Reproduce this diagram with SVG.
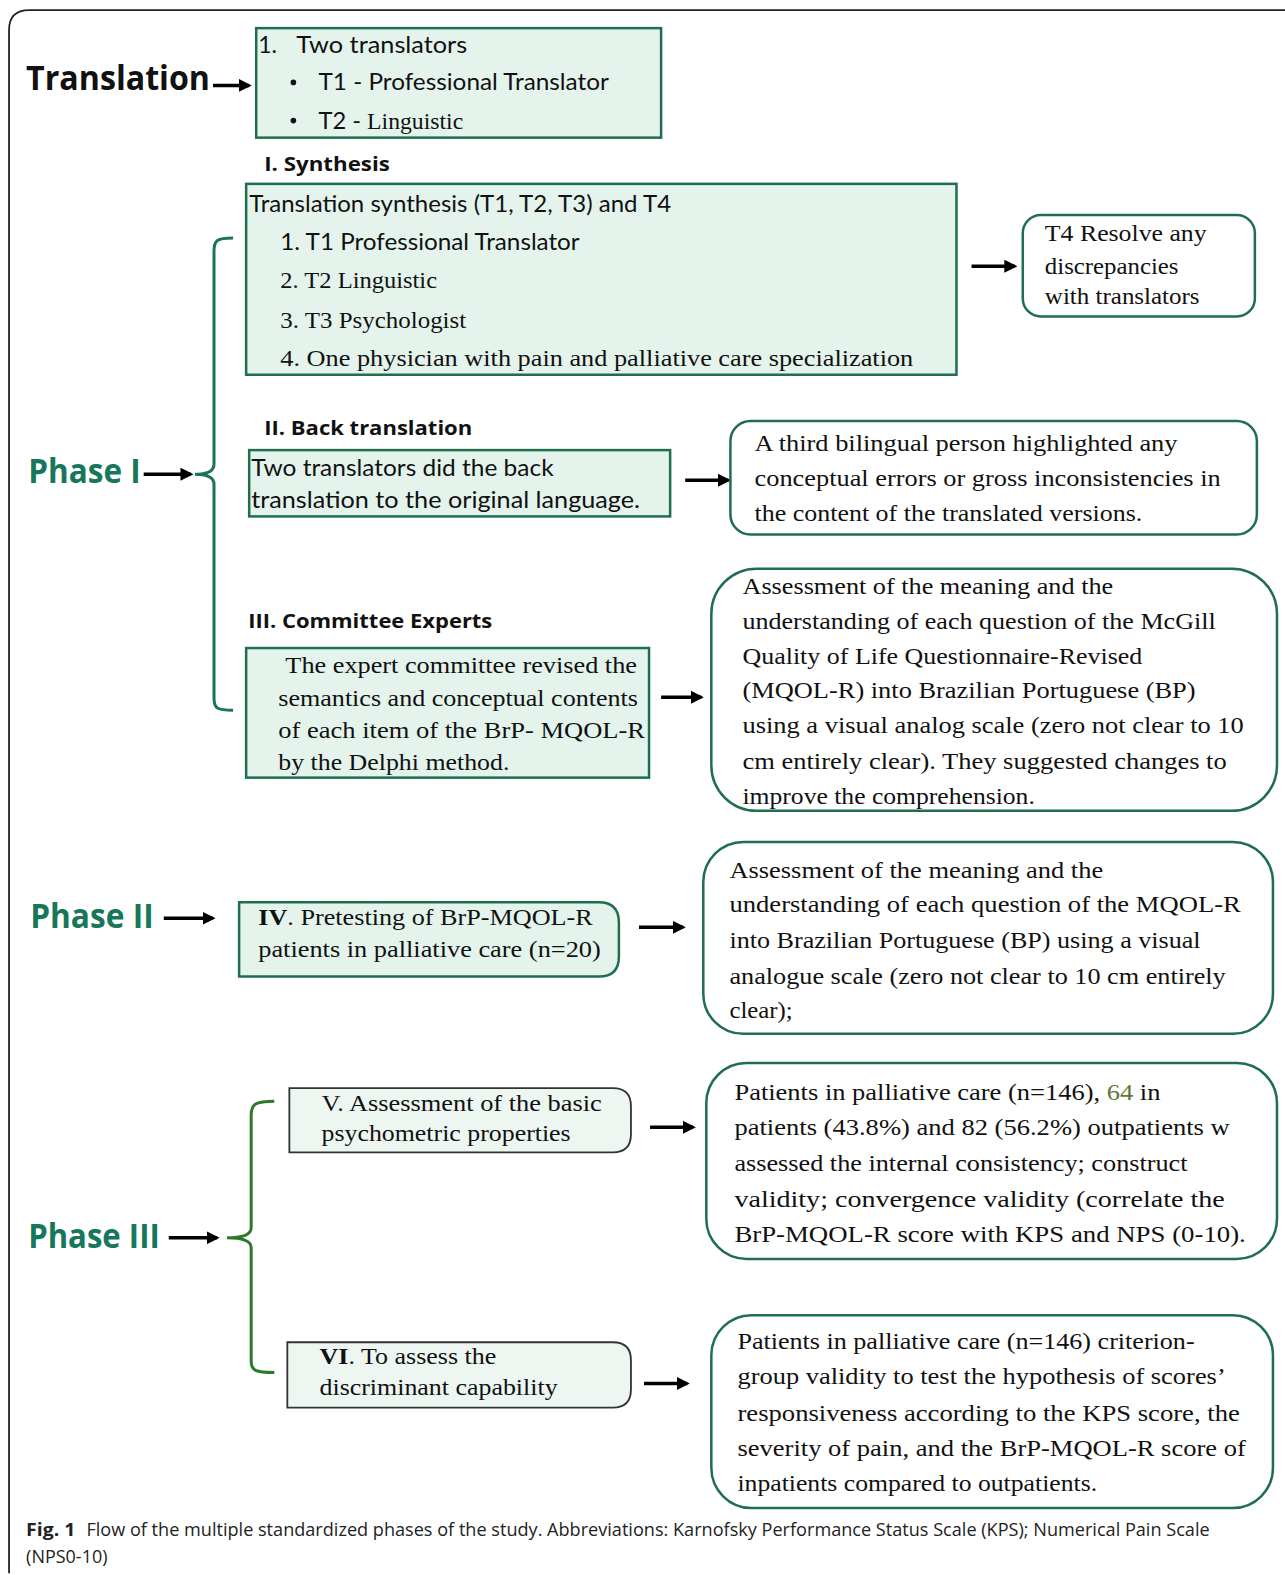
<svg xmlns="http://www.w3.org/2000/svg" width="1285" height="1575" viewBox="0 0 1285 1575">
<style>
.box{fill:#e4f4ec;stroke:#1f6f4f;stroke-width:2.5}
.rbox{fill:#ffffff;stroke:#1f6f4f;stroke-width:2.5}
.gbox{fill:#eef6f2;stroke:#333;stroke-width:1.8}
.cal{font-family:Lato,"Open Sans",sans-serif;font-size:23px;fill:#111}
.tim{font-family:"Liberation Serif","Times New Roman",serif;font-size:24px;fill:#111}
.hdr{font-family:"Open Sans",Lato,sans-serif;font-weight:bold;font-size:20px;fill:#111}
.phase{font-family:"Open Sans",Lato,sans-serif;font-weight:bold;font-size:33px;fill:#17775a}
.cap{font-family:"Open Sans","Noto Sans",sans-serif;font-size:18px;fill:#222}
.arr{stroke:#000;stroke-width:3.5;fill:none;marker-end:url(#ah)}
.brace{fill:none;stroke:#1e7456;stroke-width:3}
.brace3{fill:none;stroke:#2b7a2b;stroke-width:3}
</style>
<defs>
<marker id="ah" viewBox="0 0 10 10" refX="8" refY="5" markerWidth="13" markerHeight="13" markerUnits="userSpaceOnUse" orient="auto">
<path d="M0,0 L10,5 L0,10 z" fill="#000"/>
</marker>
</defs>
<rect width="1285" height="1575" fill="#fff"/>
<g transform="scale(1.0047)">
<path d="M9,1566 V30 Q9,10 29,10 H1285" fill="none" stroke="#222" stroke-width="1.8"/>

<g id="connectors">
<line class="arr" x1="212" y1="85" x2="248" y2="85"/>
<line class="arr" x1="967" y1="265" x2="1010" y2="265"/>
<line class="arr" x1="143" y1="472" x2="190" y2="472"/>
<line class="arr" x1="682" y1="478" x2="725" y2="478"/>
<line class="arr" x1="658" y1="694" x2="698" y2="694"/>
<line class="arr" x1="163" y1="914" x2="212" y2="914"/>
<line class="arr" x1="636" y1="923" x2="680" y2="923"/>
<line class="arr" x1="168" y1="1232" x2="216" y2="1232"/>
<line class="arr" x1="647" y1="1122" x2="690" y2="1122"/>
<line class="arr" x1="641" y1="1377" x2="684" y2="1377"/>
<path class="brace" d="M232,237 C216,237 213,239 213,250 V462 Q213,472 194,472 Q213,472 213,482 V695 C213,705 216,707 232,707"/>
<path class="brace3" d="M273,1096 C254,1096 250,1099 250,1110 V1222 Q250,1232 226,1232 Q250,1232 250,1242 V1355 C250,1364 254,1366 273,1366"/>
</g>

<g id="translation-label"><text class="phase" x="26" y="90" style="fill:#111" textLength="183" lengthAdjust="spacingAndGlyphs">Translation</text></g>
<g id="translation-box">
<rect class="box" x="255" y="28" width="403" height="109"/>
<text class="cal" x="257" y="53">1.</text>
<text class="cal" x="295" y="53" textLength="170" lengthAdjust="spacingAndGlyphs">Two  translators</text>
<circle cx="292" cy="82" r="2.8" fill="#111"/>
<text class="cal" x="317" y="90" textLength="289" lengthAdjust="spacingAndGlyphs">T1 - Professional Translator</text>
<circle cx="292" cy="120" r="2.8" fill="#111"/>
<text class="cal" x="317" y="128" textLength="144" lengthAdjust="spacingAndGlyphs">T2 - <tspan style="font-family:'Liberation Serif',serif">Linguistic</tspan></text>
</g>

<g id="synthesis-header"><text class="hdr" x="263" y="170" textLength="125" lengthAdjust="spacingAndGlyphs">I. Synthesis</text></g>
<g id="synthesis-box">
<rect class="box" x="245" y="183" width="707" height="190"/>
<text class="cal" x="248" y="211" textLength="420" lengthAdjust="spacingAndGlyphs">Translation synthesis (T1, T2, T3) and T4</text>
<text class="cal" x="279" y="249" textLength="298" lengthAdjust="spacingAndGlyphs">1. T1 Professional Translator</text>
<text class="tim" x="279" y="287" textLength="156" lengthAdjust="spacingAndGlyphs">2. T2 Linguistic</text>
<text class="tim" x="279" y="326" textLength="185" lengthAdjust="spacingAndGlyphs">3. T3 Psychologist</text>
<text class="tim" x="279" y="364" textLength="630" lengthAdjust="spacingAndGlyphs">4. One physician  with  pain and palliative  care specialization</text>
</g>
<g id="t4-box">
<rect class="rbox" x="1018" y="214" width="231" height="101" rx="18"/>
<text class="tim" x="1040" y="240" textLength="161" lengthAdjust="spacingAndGlyphs">T4 Resolve  any</text>
<text class="tim" x="1040" y="273" textLength="133" lengthAdjust="spacingAndGlyphs">discrepancies</text>
<text class="tim" x="1040" y="303" textLength="154" lengthAdjust="spacingAndGlyphs">with  translators</text>
</g>

<g id="phase1-label"><text class="phase" x="28" y="481" textLength="112" lengthAdjust="spacingAndGlyphs">Phase I</text></g>

<g id="back-header"><text class="hdr" x="263" y="433" textLength="207" lengthAdjust="spacingAndGlyphs">II. Back translation</text></g>
<g id="back-box">
<rect class="box" x="248" y="448" width="419" height="66"/>
<text class="cal" x="250" y="474" textLength="301" lengthAdjust="spacingAndGlyphs">Two translators did the back</text>
<text class="cal" x="250" y="506" textLength="387" lengthAdjust="spacingAndGlyphs">translation  to the original language.</text>
</g>
<g id="bilingual-box">
<rect class="rbox" x="727" y="419" width="524" height="113" rx="20"/>
<text class="tim" x="751" y="449" textLength="421" lengthAdjust="spacingAndGlyphs">A third  bilingual  person highlighted  any</text>
<text class="tim" x="751" y="484" textLength="464" lengthAdjust="spacingAndGlyphs">conceptual  errors or gross inconsistencies  in</text>
<text class="tim" x="751" y="519" textLength="386" lengthAdjust="spacingAndGlyphs">the  content  of the  translated  versions.</text>
</g>

<g id="committee-header"><text class="hdr" x="247" y="625" textLength="243" lengthAdjust="spacingAndGlyphs">III. Committee Experts</text></g>
<g id="committee-box">
<rect class="box" x="245" y="645" width="401" height="129"/>
<text class="tim" x="284" y="670" textLength="350" lengthAdjust="spacingAndGlyphs">The  expert  committee  revised  the</text>
<text class="tim" x="277" y="703" textLength="358" lengthAdjust="spacingAndGlyphs">semantics  and conceptual  contents</text>
<text class="tim" x="277" y="735" textLength="365" lengthAdjust="spacingAndGlyphs">of each item  of the BrP-  MQOL-R</text>
<text class="tim" x="277" y="766" textLength="230" lengthAdjust="spacingAndGlyphs">by the  Delphi  method.</text>
</g>
<g id="assessment1-box">
<rect class="rbox" x="708" y="566" width="563" height="241" rx="45"/>
<text class="tim" x="739" y="591" textLength="369" lengthAdjust="spacingAndGlyphs">Assessment  of the meaning  and the</text>
<text class="tim" x="739" y="626" textLength="471" lengthAdjust="spacingAndGlyphs">understanding  of each question  of the McGill</text>
<text class="tim" x="739" y="661" textLength="398" lengthAdjust="spacingAndGlyphs">Quality  of Life  Questionnaire-Revised</text>
<text class="tim" x="739" y="695" textLength="451" lengthAdjust="spacingAndGlyphs">(MQOL-R) into  Brazilian  Portuguese  (BP)</text>
<text class="tim" x="739" y="730" textLength="499" lengthAdjust="spacingAndGlyphs">using  a visual  analog  scale (zero not clear to 10</text>
<text class="tim" x="739" y="765" textLength="482" lengthAdjust="spacingAndGlyphs">cm entirely  clear). They  suggested  changes  to</text>
<text class="tim" x="739" y="800" textLength="291" lengthAdjust="spacingAndGlyphs">improve  the  comprehension.</text>
</g>

<g id="phase2-label"><text class="phase" x="30" y="924" textLength="123" lengthAdjust="spacingAndGlyphs">Phase II</text></g>
<g id="pretest-box">
<path class="box" d="M238,898 H596 Q616,898 616,918 V952 Q616,972 596,972 H238 Z"/>
<text class="tim" x="257" y="921" textLength="333" lengthAdjust="spacingAndGlyphs"><tspan font-weight="bold">IV</tspan>. Pretesting  of BrP-MQOL-R</text>
<text class="tim" x="257" y="953" textLength="341" lengthAdjust="spacingAndGlyphs">patients  in palliative  care (n=20)</text>
</g>
<g id="assessment2-box">
<rect class="rbox" x="700" y="838" width="567" height="191" rx="40"/>
<text class="tim" x="726" y="874" textLength="372" lengthAdjust="spacingAndGlyphs">Assessment  of the meaning  and the</text>
<text class="tim" x="726" y="908" textLength="509" lengthAdjust="spacingAndGlyphs">understanding  of each question  of the MQOL-R</text>
<text class="tim" x="726" y="944" textLength="469" lengthAdjust="spacingAndGlyphs">into  Brazilian  Portuguese  (BP) using  a visual</text>
<text class="tim" x="726" y="979" textLength="494" lengthAdjust="spacingAndGlyphs">analogue  scale (zero not clear to 10 cm entirely</text>
<text class="tim" x="726" y="1013" textLength="63" lengthAdjust="spacingAndGlyphs">clear);</text>
</g>

<g id="phase3-label"><text class="phase" x="28" y="1242" textLength="131" lengthAdjust="spacingAndGlyphs">Phase III</text></g>
<g id="psychometric-box">
<path class="gbox" d="M288,1083 H610 Q628,1083 628,1101 V1129 Q628,1147 610,1147 H288 Z"/>
<text class="tim" x="320" y="1106" textLength="279" lengthAdjust="spacingAndGlyphs">V. Assessment  of the basic</text>
<text class="tim" x="320" y="1136" textLength="248" lengthAdjust="spacingAndGlyphs">psychometric  properties</text>
</g>
<g id="patients1-box">
<rect class="rbox" x="703" y="1058" width="568" height="195" rx="40"/>
<text class="tim" x="731" y="1095" textLength="424" lengthAdjust="spacingAndGlyphs">Patients  in palliative  care (n=146), <tspan fill="#5b7a35">64</tspan> in</text>
<text class="tim" x="731" y="1130" textLength="493" lengthAdjust="spacingAndGlyphs">patients  (43.8%) and 82 (56.2%) outpatients  w</text>
<text class="tim" x="731" y="1166" textLength="451" lengthAdjust="spacingAndGlyphs">assessed the internal  consistency;  construct</text>
<text class="tim" x="731" y="1201" textLength="488" lengthAdjust="spacingAndGlyphs">validity;  convergence  validity  (correlate the</text>
<text class="tim" x="731" y="1236" textLength="509" lengthAdjust="spacingAndGlyphs">BrP-MQOL-R  score with  KPS and NPS (0-10).</text>
</g>
<g id="discriminant-box">
<path class="gbox" d="M286,1336 H610 Q628,1336 628,1354 V1383 Q628,1401 610,1401 H286 Z"/>
<text class="tim" x="318" y="1358" textLength="176" lengthAdjust="spacingAndGlyphs"><tspan font-weight="bold">VI</tspan>. To assess the</text>
<text class="tim" x="318" y="1388" textLength="237" lengthAdjust="spacingAndGlyphs">discriminant  capability</text>
</g>
<g id="patients2-box">
<rect class="rbox" x="708" y="1309" width="559" height="192" rx="40"/>
<text class="tim" x="734" y="1343" textLength="455" lengthAdjust="spacingAndGlyphs">Patients  in palliative  care (n=146) criterion-</text>
<text class="tim" x="734" y="1378" textLength="486" lengthAdjust="spacingAndGlyphs">group validity  to test the hypothesis  of scores’</text>
<text class="tim" x="734" y="1414" textLength="500" lengthAdjust="spacingAndGlyphs">responsiveness  according  to the KPS score, the</text>
<text class="tim" x="734" y="1449" textLength="506" lengthAdjust="spacingAndGlyphs">severity  of pain,  and the BrP-MQOL-R score of</text>
<text class="tim" x="734" y="1484" textLength="358" lengthAdjust="spacingAndGlyphs">inpatients  compared  to outpatients.</text>
</g>

<g id="caption">
<text class="cap" x="26" y="1529" font-weight="bold" textLength="49" lengthAdjust="spacingAndGlyphs">Fig. 1</text>
<text class="cap" x="86" y="1529" textLength="1118" lengthAdjust="spacingAndGlyphs">Flow of the multiple standardized phases of the study. Abbreviations: Karnofsky Performance Status Scale (KPS); Numerical Pain Scale</text>
<text class="cap" x="26" y="1556" textLength="81" lengthAdjust="spacingAndGlyphs">(NPS0-10)</text>
</g>
</g>
</svg>
